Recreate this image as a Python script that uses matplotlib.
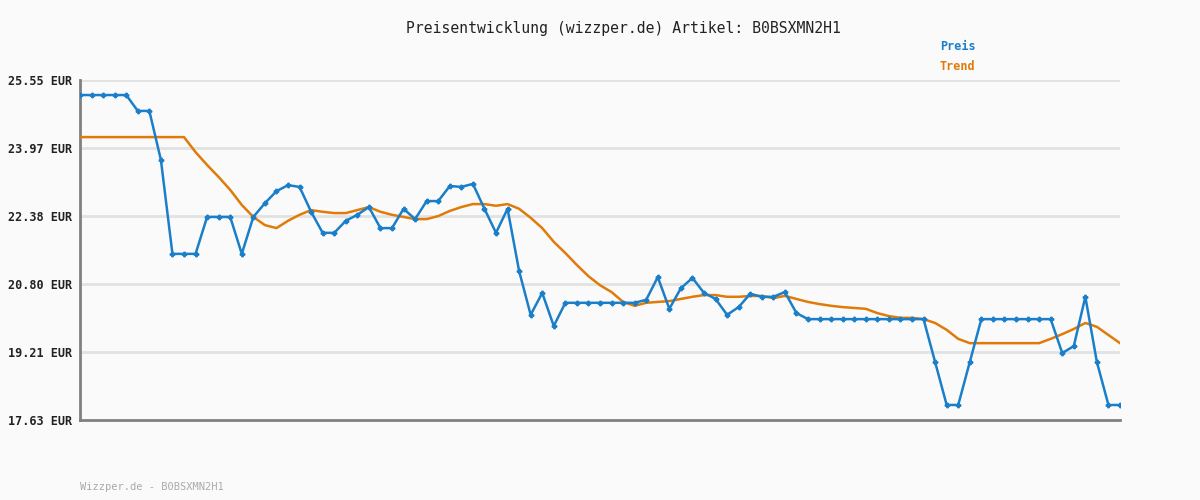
import matplotlib
matplotlib.use("Agg")
import matplotlib.pyplot as plt
import numpy as np

title = "Preisentwicklung (wizzper.de) Artikel: B0BSXMN2H1"
footer = "Wizzper.de - B0BSXMN2H1"
yticks = [17.63, 19.21, 20.80, 22.38, 23.97, 25.55]
ytick_labels = ["17.63 EUR", "19.21 EUR", "20.80 EUR", "22.38 EUR", "23.97 EUR", "25.55 EUR"]

preis = [25.20, 25.20, 25.20, 25.20, 25.20, 24.83, 24.83, 23.69, 21.50, 21.50,
         21.50, 22.36, 22.36, 22.36, 21.50, 22.36, 22.68, 22.96, 23.10, 23.06,
         22.48, 21.99, 21.99, 22.27, 22.41, 22.59, 22.10, 22.10, 22.55, 22.31,
         22.73, 22.73, 23.08, 23.06, 23.13, 22.55, 21.99, 22.55, 21.10, 20.08,
         20.59, 19.82, 20.36, 20.36, 20.36, 20.36, 20.36, 20.36, 20.36, 20.43,
         20.96, 20.22, 20.70, 20.94, 20.59, 20.45, 20.08, 20.26, 20.57, 20.50,
         20.50, 20.61, 20.12, 19.98, 19.98, 19.98, 19.98, 19.98, 19.98, 19.98,
         19.98, 19.98, 19.98, 19.98, 18.98, 17.98, 17.98, 18.98, 19.98, 19.98,
         19.98, 19.98, 19.98, 19.98, 19.98, 19.19, 19.35, 20.50, 18.98, 17.98,
         17.98]

trend = [24.22, 24.22, 24.22, 24.22, 24.22, 24.22, 24.22, 24.22, 24.22, 24.22,
         23.87, 23.57, 23.29, 22.99, 22.64, 22.36, 22.17, 22.10, 22.27, 22.41,
         22.52, 22.48, 22.45, 22.45, 22.52, 22.59, 22.48, 22.41, 22.36, 22.31,
         22.31, 22.38, 22.50, 22.59, 22.66, 22.66, 22.62, 22.66, 22.55, 22.34,
         22.10, 21.78, 21.52, 21.24, 20.98, 20.77, 20.61, 20.38, 20.29, 20.36,
         20.38, 20.40, 20.45, 20.50, 20.54, 20.54, 20.50, 20.50, 20.52, 20.52,
         20.47, 20.52, 20.45, 20.38, 20.33, 20.29, 20.26, 20.24, 20.22, 20.12,
         20.05, 20.01, 20.01, 19.98, 19.89, 19.73, 19.52, 19.42, 19.42, 19.42,
         19.42, 19.42, 19.42, 19.42, 19.52, 19.63, 19.75, 19.89, 19.80, 19.61,
         19.42]

blue = "#1a7fc8"
orange = "#e07b0a"
bg = "#fafafa"
mono = ["DejaVu Sans Mono"]

fig = plt.figure(figsize=(12, 5), dpi=100, facecolor=bg)
ax = fig.add_axes([80/1200, 80/500, 1040/1200, 340/500])
ax.set_facecolor(bg)

x = np.arange(len(preis))
ax.plot(x, trend, color=orange, lw=1.8, zorder=3)
ax.plot(x, preis, color=blue, lw=1.8, marker="P", markersize=3.2, zorder=4)

ax.set_xlim(0, len(preis) - 1)
ax.set_ylim(yticks[0], yticks[-1])
ax.set_yticks(yticks)
ax.set_yticklabels(ytick_labels, fontfamily=mono, fontweight="bold", fontsize=8.5, color="#222222")
ax.set_xticks([])
ax.tick_params(axis="y", length=0, pad=6)
for yv in yticks[1:]:
    ax.axhline(yv, color="#e2e2e2", lw=2, zorder=1)

for s in ["top", "right"]:
    ax.spines[s].set_visible(False)
for s in ["left", "bottom"]:
    ax.spines[s].set_color("#808080")
    ax.spines[s].set_linewidth(2)

fig.text(623/1200, 1 - 28/500, title, ha="center", va="center", fontfamily=mono,
         fontsize=10.6, color="#222222")
fig.text(940/1200, 1 - 47/500, "Preis", ha="left", va="center", fontfamily=mono,
         fontsize=8.5, fontweight="bold", color=blue)
fig.text(940/1200, 1 - 67/500, "Trend", ha="left", va="center", fontfamily=mono,
         fontsize=8.5, fontweight="bold", color=orange)
fig.text(80/1200, 1 - 487/500, footer, ha="left", va="center", fontfamily=mono,
         fontsize=7.5, color="#aaaaaa")

fig.savefig("out.png", dpi=100, facecolor=bg)
